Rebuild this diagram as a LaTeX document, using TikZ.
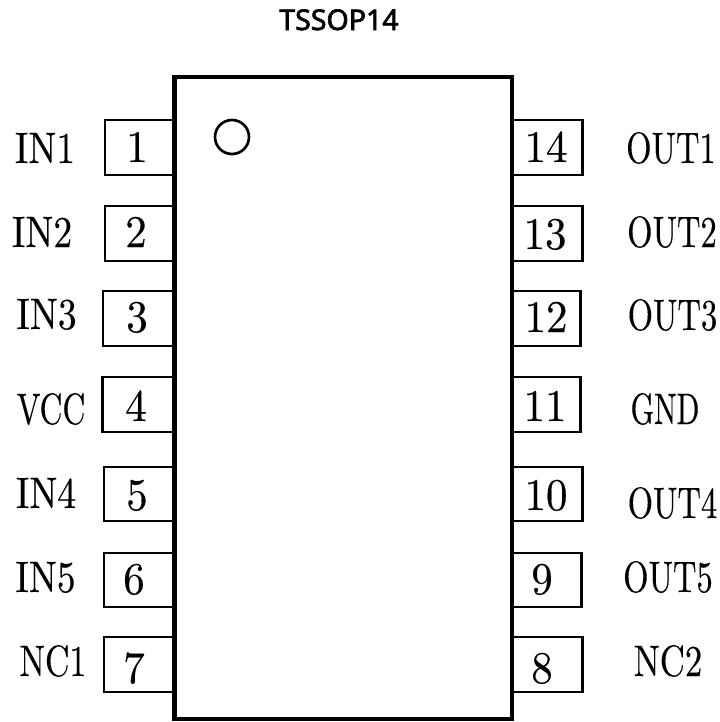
\documentclass[tikz,border=0pt]{standalone}
\usepackage{fontspec}
\newfontfamily\titlefont{Noto Sans}[FakeBold=2.2]
\newfontfamily\lmten{lmroman10-regular}[Extension=.otf,FakeBold=0.3]
\newcommand{\narrowtxt}[2][0.85]{\scalebox{#1}[1]{#2}}
\tikzset{
  pinbox/.style={draw=black,line width=2pt,fill=white,inner sep=0pt,outer sep=0pt,anchor=south west,minimum height=41.25pt},
  chipbody/.style={draw=black,line width=3.7pt,inner sep=0pt,outer sep=0pt,anchor=north west,minimum width=253.1pt,minimum height=481.5pt,line join=miter},
  dot1/.style={draw=black,line width=2pt,circle,inner sep=0pt,outer sep=0pt,minimum size=25.5pt},
  pinnum/.style={inner sep=0pt,anchor=base,font=\lmten\fontsize{34pt}{34pt}\selectfont},
  pinlabel/.style={inner sep=0pt,anchor=base,font=\lmten\fontsize{33pt}{33pt}\selectfont},
  titletext/.style={inner sep=0pt,anchor=base,font=\titlefont\fontsize{21.4pt}{21.4pt}\selectfont}
}
\begin{document}
\begin{tikzpicture}[x=0.75pt,y=-0.75pt]
\useasboundingbox (0,0) rectangle (719,722);
\node[titletext] (title) at (339,30) {TSSOP14};
% pins, left side
\node[pinbox,minimum width=52.5pt] (p1) at (105,175) {};
\node[pinbox,minimum width=52.5pt] (p2) at (105,261) {};
\node[pinbox,minimum width=54pt] (p3) at (103,346) {};
\node[pinbox,minimum width=54.4pt] (p4) at (102.5,432) {};
\node[pinbox,minimum width=53pt,minimum height=40.5pt] (p5) at (104,521) {};
\node[pinbox,minimum width=53pt,minimum height=40.5pt] (p6) at (104,607) {};
\node[pinbox,minimum width=53pt] (p7) at (104,692) {};
% pins, right side
\node[pinbox,minimum width=53pt] (p14) at (512,175) {};
\node[pinbox,minimum width=53pt] (p13) at (512,261) {};
\node[pinbox,minimum width=51.5pt] (p12) at (512,346) {};
\node[pinbox,minimum width=51.5pt] (p11) at (512,432) {};
\node[pinbox,minimum width=53pt,minimum height=40.5pt] (p10) at (512,521) {};
\node[pinbox,minimum width=52.2pt,minimum height=40.5pt] (p9) at (512,607) {};
\node[pinbox,minimum width=53pt] (p8) at (512,692) {};
% body
\node[chipbody] (chip) at (174.5,77) {};
\node[dot1] (mark) at (232,137) {};
% numbers
\node[pinnum] (n1) at (137,162) {\narrowtxt[0.95]{1}};
\node[pinnum] (n2) at (136,247) {\narrowtxt[0.95]{2}};
\node[pinnum] (n3) at (137,332) {\narrowtxt[0.95]{3}};
\node[pinnum] (n4) at (136,421) {\narrowtxt[0.95]{4}};
\node[pinnum] (n5) at (137,510) {\narrowtxt[0.95]{5}};
\node[pinnum] (n6) at (134,594) {\narrowtxt[0.95]{6}};
\node[pinnum] (n7) at (134,683) {\narrowtxt[0.95]{7}};
\node[pinnum] (n14) at (546,162) {\narrowtxt[0.95]{14}};
\node[pinnum] (n13) at (545,249) {\narrowtxt[0.95]{13}};
\node[pinnum] (n12) at (546,332) {\narrowtxt[0.95]{12}};
\node[pinnum] (n11) at (545,421) {\narrowtxt[0.95]{11}};
\node[pinnum] (n10) at (546,510) {\narrowtxt[0.95]{10}};
\node[pinnum] (n9) at (542,594) {\narrowtxt[0.95]{9}};
\node[pinnum] (n8) at (542,683) {\narrowtxt[0.95]{8}};
% labels
\node[pinlabel] (l1) at (45,163) {\narrowtxt{IN1}};
\node[pinlabel] (l2) at (42,247) {\narrowtxt{IN2}};
\node[pinlabel] (l3) at (46.5,329) {\narrowtxt{IN3}};
\node[pinlabel] (l4) at (51,424) {\narrowtxt[0.72]{VCC}};
\node[pinlabel] (l5) at (46,508) {\narrowtxt{IN4}};
\node[pinlabel] (l6) at (45.5,592) {\narrowtxt{IN5}};
\node[pinlabel] (l7) at (53,676) {\narrowtxt[0.77]{NC1}};
\node[pinlabel] (l14) at (671,163) {\narrowtxt[0.74]{OUT1}};
\node[pinlabel] (l13) at (672,247) {\narrowtxt[0.74]{OUT2}};
\node[pinlabel] (l12) at (672.5,330) {\narrowtxt[0.74]{OUT3}};
\node[pinlabel] (l11) at (665,424) {\narrowtxt[0.68]{GND}};
\node[pinlabel] (l10) at (672.5,518) {\narrowtxt[0.74]{OUT4}};
\node[pinlabel] (l9) at (668,592) {\narrowtxt[0.74]{OUT5}};
\node[pinlabel] (l8) at (668,676) {\narrowtxt[0.79]{NC2}};
\end{tikzpicture}
\end{document}
